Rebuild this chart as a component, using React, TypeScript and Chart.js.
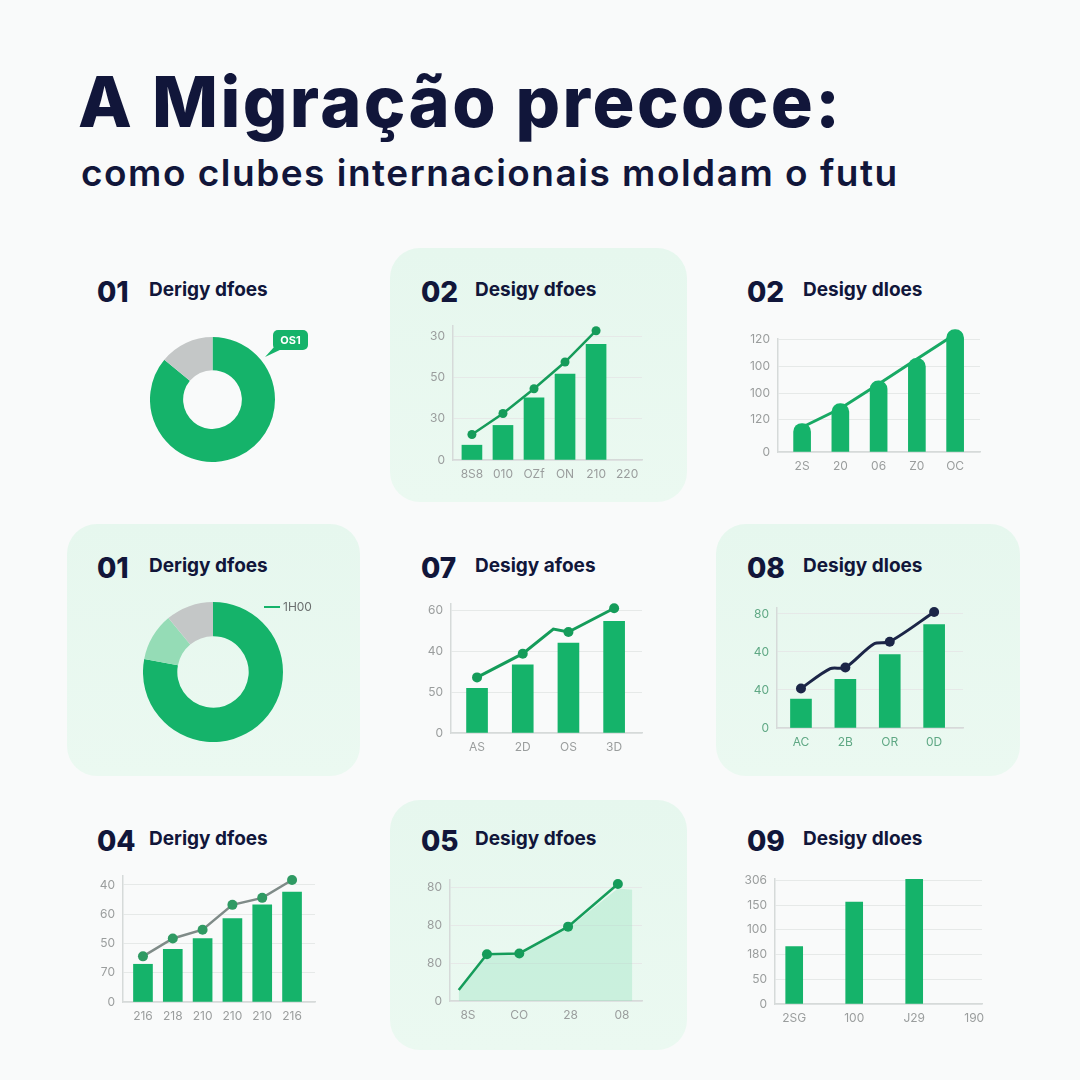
import React, { useEffect, useRef } from 'react';
import { Chart, registerables } from 'chart.js';

Chart.register(...registerables);

// ---------------- data ----------------
const titleText = 'A Migração precoce:';
const subtitleText = 'como clubes internacionais moldam o futu';

const panelNumbers = ['01', '02', '02', '01', '07', '08', '04', '05', '09'];
const panelTitles = [
  'Derigy dfoes', 'Desigy dfoes', 'Desigy dloes',
  'Derigy dfoes', 'Desigy afoes', 'Desigy dloes',
  'Derigy dfoes', 'Desigy dfoes', 'Desigy dloes',
];

// Panel 01 (doughnut)
const donutALabels = ['Principal', 'Outros'];
const donutAValues = [86, 14];
const donutABadge = 'OS1';

// Panel 02 (bars + line)
const p2XLabels = ['8S8', '010', 'OZf', 'ON', '210', '220'];
const p2Bars = [0.36, 0.84, 1.51, 2.09, 2.81];
const p2Line = [0.62, 1.13, 1.73, 2.38, 3.14];
const p2YTicks = [0, 1, 2, 3];
const p2YLabels = ['0', '30', '50', '30'];

// Panel 02b (rounded bars + line)
const p3XLabels = ['2S', '20', '06', 'Z0', 'OC'];
const p3Bars = [1.05, 1.78, 2.62, 3.45, 4.5];
const p3Line = [0.91, 1.6, 2.5, 3.42, 4.33];
const p3YTicks = [0, 1.2, 2.15, 3.16, 4.15];
const p3YLabels = ['0', '120', '100', '100', '120'];

// Panel 01b (doughnut, three parts)
const donutBLabels = ['Principal', 'Secundário', 'Outros'];
const donutBValues = [78, 11, 11];
const donutBLegend = '1H00';

// Panel 07
const p5XLabels = ['AS', '2D', 'OS', '3D'];
const p5Bars = [1.09, 1.67, 2.2, 2.73];
const p5LineX = [0, 1, 1.67, 2, 3];
const p5LineY = [1.36, 1.94, 2.54, 2.47, 3.05];
const p5LineDots = [true, true, false, true, true];
const p5YTicks = [0, 1, 2, 3];
const p5YLabels = ['0', '50', '40', '60'];

// Panel 08
const p6XLabels = ['AC', '2B', 'OR', '0D'];
const p6Bars = [0.76, 1.28, 1.93, 2.72];
const p6LineX = [0, 0.66, 1, 1.64, 2, 3];
const p6LineY = [1.04, 1.56, 1.59, 2.21, 2.27, 3.05];
const p6LineDots = [true, false, true, false, true, true];
const p6YTicks = [0, 1, 2, 3];
const p6YLabels = ['0', '40', '40', '80'];

// Panel 04
const p7XLabels = ['216', '218', '210', '210', '210', '216'];
const p7Bars = [1.29, 1.8, 2.17, 2.85, 3.32, 3.76];
const p7Line = [1.56, 2.17, 2.47, 3.32, 3.56, 4.17];
const p7YTicks = [0, 1, 2, 3, 4];
const p7YLabels = ['0', '70', '50', '60', '40'];

// Panel 05 (area line)
const p8XLabels = ['8S', 'CO', '28', '08'];
const p8LineX = [-0.18, 0.37, 1.0, 1.95, 2.92];
const p8LineY = [0.29, 1.24, 1.26, 1.97, 3.1];
const p8LineDots = [false, true, true, true, true];
const p8AreaX = [-0.18, 0.37, 1.0, 1.95, 2.92, 3.2];
const p8AreaY = [0.25, 1.2, 1.22, 1.93, 2.98, 2.95];
const p8YTicks = [0, 1, 2, 3];
const p8YLabels = ['0', '80', '80', '80'];

// Panel 09
const p9XLabels = ['2SG', '100', 'J29', '190'];
const p9Bars = [2.32, 4.12, 5.04];
const p9YTicks = [0, 1, 2, 3, 4, 5];
const p9YLabels = ['0', '50', '180', '100', '150', '306'];

// ---------------- styles ----------------
const NAVY = '#11163a';
const GREEN = '#15b36a';
const GREEN_DARK = '#159c5a';
const GRID = '#e6e9e8';
const AXIS = '#d6dad9';
const TICK = '#9a9d9d';
const TICK_GREEN = '#5fa884';
const FONT = 'Inter, "Noto Sans", sans-serif';
const PANEL_BG = '#e6f7ee';

const YW = 44;
const XH = 28;
const TP = 14;
const RP = 12;

// axisX: pixel of y axis, plotRight: right end, yZero: pixel of first tick, yTop: pixel of last tick
type Geo = {
  axisX: number; plotRight: number; yZero: number; yTop: number;
  xMin: number; xMax: number; yTicks: number[]; yMax: number;
};
type Rect = { left: number; top: number; width: number; height: number };

function plotTopOf(g: Geo) {
  const t0 = g.yTicks[0];
  const t1 = g.yTicks[g.yTicks.length - 1];
  const pxPerUnit = (g.yZero - g.yTop) / (t1 - t0);
  return g.yZero - (g.yMax - t0) * pxPerUnit;
}

function rectOf(g: Geo): Rect {
  const left = g.axisX - YW;
  const top = plotTopOf(g) - TP;
  return { left, top, width: g.plotRight + RP - left, height: g.yZero + XH - top };
}

function pts(xs: number[], ys: number[]) {
  return xs.map((x, i) => ({ x, y: ys[i] }));
}

function cartesianOptions(g: Geo, xLabels: string[], yLabels: string[], tickColor: string) {
  const yTicks = g.yTicks;
  return {
    responsive: false,
    animation: false,
    layout: { padding: { top: TP, right: RP, left: 0, bottom: 0 } },
    plugins: { legend: { display: false }, tooltip: { enabled: false } },
    scales: {
      x: {
        type: 'linear',
        offset: false,
        min: g.xMin,
        max: g.xMax,
        afterFit: (s: any) => { s.height = XH; },
        afterBuildTicks: (s: any) => { s.ticks = xLabels.map((_, i) => ({ value: i })); },
        ticks: {
          callback: (_v: any, i: number) => xLabels[i],
          color: tickColor,
          font: { family: FONT, size: 12 },
          padding: 7,
          autoSkip: false,
          maxRotation: 0,
        },
        grid: { display: false, drawTicks: false, offset: false },
        border: { display: true, color: AXIS, width: 1.5 },
      },
      y: {
        type: 'linear',
        min: yTicks[0],
        max: g.yMax,
        afterFit: (s: any) => { s.width = YW; },
        afterBuildTicks: (s: any) => { s.ticks = yTicks.map((v) => ({ value: v })); },
        ticks: {
          callback: (_v: any, i: number) => yLabels[i],
          color: tickColor,
          font: { family: FONT, size: 12 },
          padding: 8,
        },
        grid: { color: GRID, drawTicks: false, lineWidth: 1 },
        border: { display: true, color: AXIS, width: 1.5 },
      },
    },
  };
}

function barDataset(values: number[], thickness: number, radius = 0) {
  return {
    type: 'bar',
    data: values.map((y, i) => ({ x: i, y })),
    backgroundColor: GREEN,
    barThickness: thickness,
    borderWidth: 0,
    borderRadius: radius,
    borderSkipped: 'bottom',
    clip: false,
  };
}

function lineDataset(data: { x: number; y: number }[], color: string, width: number, dotColor: string, dotRadius: number | number[], tension = 0) {
  return {
    type: 'line',
    data,
    borderColor: color,
    borderWidth: width,
    pointRadius: dotRadius,
    pointBackgroundColor: dotColor,
    pointBorderWidth: 0,
    pointHoverRadius: 0,
    tension,
    fill: false,
    clip: false,
  };
}

// ---------------- geometries ----------------
const g2: Geo = { axisX: 453, plotRight: 642, yZero: 460, yTop: 335, xMin: -0.61, xMax: 5.48, yTicks: p2YTicks, yMax: 3.25 };
const g3: Geo = { axisX: 778, plotRight: 980, yZero: 452, yTop: 338, xMin: -0.63, xMax: 4.65, yTicks: p3YTicks, yMax: 4.15 };
const g5: Geo = { axisX: 451, plotRight: 642, yZero: 733, yTop: 609, xMin: -0.57, xMax: 3.61, yTicks: p5YTicks, yMax: 3.15 };
const g6: Geo = { axisX: 777, plotRight: 963, yZero: 728, yTop: 613, xMin: -0.54, xMax: 3.65, yTicks: p6YTicks, yMax: 3.15 };
const g7: Geo = { axisX: 123, plotRight: 315, yZero: 1002, yTop: 884, xMin: -0.67, xMax: 5.77, yTicks: p7YTicks, yMax: 4.3 };
const g8: Geo = { axisX: 450, plotRight: 642, yZero: 1001, yTop: 887, xMin: -0.35, xMax: 3.39, yTicks: p8YTicks, yMax: 3.2 };
const g9: Geo = { axisX: 775, plotRight: 982, yZero: 1004, yTop: 879, xMin: -0.32, xMax: 3.13, yTicks: p9YTicks, yMax: 5.05 };

// ---------------- chart configs ----------------
const buildP2 = () => ({
  type: 'bar',
  data: {
    datasets: [
      lineDataset(pts([0, 1, 2, 3, 4], p2Line), GREEN_DARK, 2.5, GREEN_DARK, 4.5),
      barDataset(p2Bars, 20),
    ],
  },
  options: cartesianOptions(g2, p2XLabels, p2YLabels, TICK),
});

const buildP3 = () => ({
  type: 'bar',
  data: {
    datasets: [
      barDataset(p3Bars, 17, 9),
      lineDataset(pts([0, 1, 2, 3, 4], p3Line), '#18a964', 3, '#18a964', 0),
    ],
  },
  options: cartesianOptions(g3, p3XLabels, p3YLabels, TICK),
});

const buildP5 = () => ({
  type: 'bar',
  data: {
    datasets: [
      lineDataset(pts(p5LineX, p5LineY), GREEN_DARK, 3, GREEN_DARK, p5LineDots.map((d) => (d ? 5 : 0))),
      barDataset(p5Bars, 21),
    ],
  },
  options: cartesianOptions(g5, p5XLabels, p5YLabels, TICK),
});

const buildP6 = () => ({
  type: 'bar',
  data: {
    datasets: [
      lineDataset(pts(p6LineX, p6LineY), '#1b2547', 3, '#1b2547', p6LineDots.map((d) => (d ? 5 : 0)), 0.3),
      barDataset(p6Bars, 21),
    ],
  },
  options: cartesianOptions(g6, p6XLabels, p6YLabels, TICK_GREEN),
});

const buildP7 = () => ({
  type: 'bar',
  data: {
    datasets: [
      lineDataset(pts([0, 1, 2, 3, 4, 5], p7Line), '#7f8b88', 2.5, '#2f9a63', 5),
      barDataset(p7Bars, 19),
    ],
  },
  options: cartesianOptions(g7, p7XLabels, p7YLabels, TICK),
});

const buildP8 = () => ({
  type: 'line',
  data: {
    datasets: [
      lineDataset(pts(p8LineX, p8LineY), GREEN_DARK, 2.5, GREEN_DARK, p8LineDots.map((d) => (d ? 5 : 0))),
      {
        type: 'line',
        data: pts(p8AreaX, p8AreaY),
        borderWidth: 0,
        borderColor: 'rgba(0,0,0,0)',
        pointRadius: 0,
        backgroundColor: 'rgba(150, 226, 188, 0.38)',
        fill: 'origin',
        tension: 0,
      },
    ],
  },
  options: cartesianOptions(g8, p8XLabels, p8YLabels, TICK),
});

const buildP9 = () => ({
  type: 'bar',
  data: { datasets: [barDataset(p9Bars, 17)] },
  options: cartesianOptions(g9, p9XLabels, p9YLabels, TICK),
});

function donutConfig(labels: string[], values: number[], colors: string[], cutout: string) {
  return {
    type: 'doughnut',
    data: { labels, datasets: [{ data: values, backgroundColor: colors, borderWidth: 0 }] },
    options: {
      responsive: false,
      animation: false,
      cutout,
      layout: { padding: 0 },
      plugins: { legend: { display: false }, tooltip: { enabled: false } },
    },
  };
}

const buildDonutA = () => donutConfig(donutALabels, donutAValues, [GREEN, '#c4c7c7'], '47%');
const buildDonutB = () => donutConfig(donutBLabels, donutBValues, [GREEN, '#95dcb6', '#c4c7c7'], '51%');

// ---------------- components ----------------
function ChartCanvas({ rect, build }: { rect: Rect; build: () => any }) {
  const ref = useRef<HTMLCanvasElement>(null);
  useEffect(() => {
    const chart = new Chart(ref.current as HTMLCanvasElement, build());
    return () => chart.destroy();
  }, []);
  return (
    <canvas
      ref={ref}
      width={Math.round(rect.width)}
      height={Math.round(rect.height)}
      style={{
        position: 'absolute',
        left: Math.round(rect.left),
        top: Math.round(rect.top),
        width: Math.round(rect.width),
        height: Math.round(rect.height),
      }}
    />
  );
}

const panelBoxes = [
  { left: 390, top: 248, width: 297, height: 254 },
  { left: 67, top: 524, width: 293, height: 252 },
  { left: 716, top: 524, width: 304, height: 252 },
  { left: 390, top: 800, width: 297, height: 250 },
];

const numX = [97, 421, 747];
const titleX = [149, 475, 803];
const rowTop = [282, 558, 831];

export default function App() {
  return (
    <div
      style={{
        position: 'absolute',
        left: 0,
        top: 0,
        width: 1080,
        height: 1080,
        background: '#f9fafa',
        overflow: 'hidden',
        fontFamily: FONT,
        color: NAVY,
      }}
    >
      {panelBoxes.map((b, i) => (
        <div
          key={'box' + i}
          style={{
            position: 'absolute',
            left: b.left,
            top: b.top,
            width: b.width,
            height: b.height,
            borderRadius: 30,
            background: `linear-gradient(180deg, ${PANEL_BG} 0%, #ebf9f1 100%)`,
          }}
        />
      ))}

      <div
        style={{
          position: 'absolute',
          left: 78,
          top: 62,
          fontSize: 70,
          lineHeight: '80px',
          fontWeight: 800,
          letterSpacing: 2.4,
          whiteSpace: 'nowrap',
        }}
      >
        {titleText}
      </div>
      <div
        style={{
          position: 'absolute',
          left: 81,
          top: 151,
          fontSize: 37,
          lineHeight: '44px',
          fontWeight: 600,
          letterSpacing: 1.5,
          whiteSpace: 'nowrap',
        }}
      >
        {subtitleText}
      </div>

      {panelNumbers.map((n, i) => {
        const r = Math.floor(i / 3);
        const c = i % 3;
        return (
          <React.Fragment key={'h' + i}>
            <div
              style={{
                position: 'absolute',
                left: numX[c],
                top: rowTop[r] - 4,
                fontSize: 28,
                lineHeight: '28px',
                fontWeight: 800,
                whiteSpace: 'nowrap',
              }}
            >
              {n}
            </div>
            <div
              style={{
                position: 'absolute',
                left: titleX[c],
                top: rowTop[r] - 2,
                fontSize: 19,
                lineHeight: '20px',
                fontWeight: 700,
                whiteSpace: 'nowrap',
              }}
            >
              {panelTitles[i]}
            </div>
          </React.Fragment>
        );
      })}

      <ChartCanvas rect={{ left: 150, top: 337, width: 125, height: 125 }} build={buildDonutA} />
      <svg style={{ position: 'absolute', left: 260, top: 326, width: 56, height: 36 }} viewBox="0 0 56 36">
        <rect x="13" y="4" width="35" height="20" rx="5" fill={GREEN} />
        <polygon points="15,20 24,22 5,31" fill={GREEN} />
      </svg>
      <div
        style={{
          position: 'absolute',
          left: 273,
          top: 330,
          width: 35,
          height: 20,
          lineHeight: '20px',
          textAlign: 'center',
          color: '#ffffff',
          fontSize: 11,
          fontWeight: 700,
        }}
      >
        {donutABadge}
      </div>

      <ChartCanvas rect={rectOf(g2)} build={buildP2} />
      <ChartCanvas rect={rectOf(g3)} build={buildP3} />

      <ChartCanvas rect={{ left: 143, top: 602, width: 140, height: 140 }} build={buildDonutB} />
      <div style={{ position: 'absolute', left: 264, top: 606, width: 16, height: 2, background: GREEN }} />
      <div
        style={{
          position: 'absolute',
          left: 283,
          top: 599,
          fontSize: 12,
          lineHeight: '16px',
          color: '#6b6f6f',
        }}
      >
        {donutBLegend}
      </div>

      <ChartCanvas rect={rectOf(g5)} build={buildP5} />
      <ChartCanvas rect={rectOf(g6)} build={buildP6} />
      <ChartCanvas rect={rectOf(g7)} build={buildP7} />
      <ChartCanvas rect={rectOf(g8)} build={buildP8} />
      <ChartCanvas rect={rectOf(g9)} build={buildP9} />
    </div>
  );
}
